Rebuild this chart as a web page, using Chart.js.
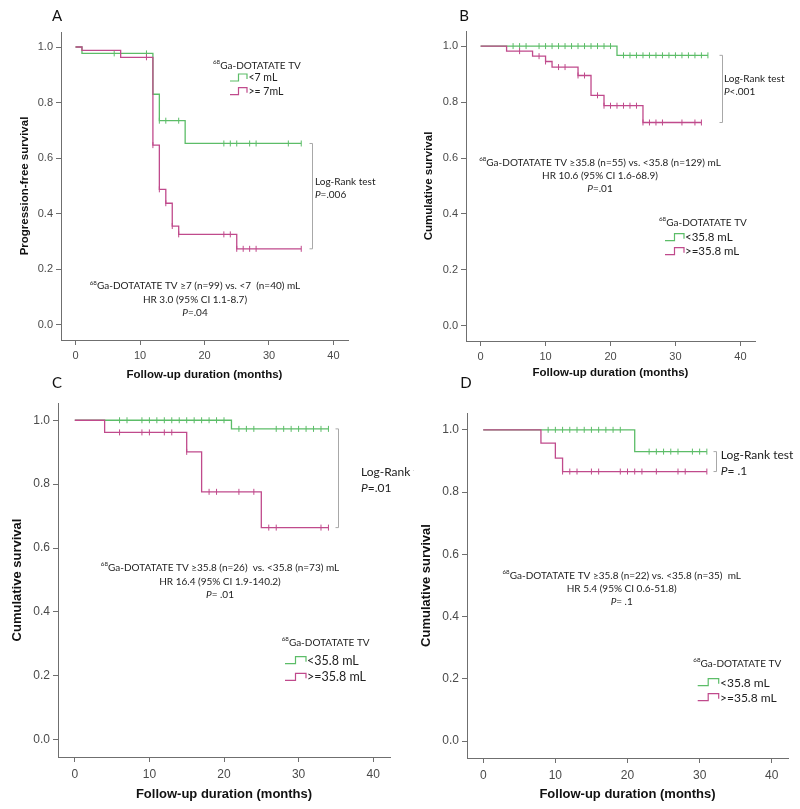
<!DOCTYPE html>
<html><head><meta charset="utf-8">
<script src="https://cdn.jsdelivr.net/npm/chart.js@4.4.1/dist/chart.umd.min.js"></script>
<style>
html,body{margin:0;padding:0;background:#fff;}
#wrap{position:relative;width:800px;height:809px;background:#fff;}
canvas{position:absolute;left:0;top:0;}
</style></head><body>
<div id="wrap">
<canvas id="cA" width="800" height="809"></canvas>
<canvas id="cB" width="800" height="809"></canvas>
<canvas id="cC" width="800" height="809"></canvas>
<canvas id="cD" width="800" height="809"></canvas>
</div>
<script>
// ---------- shared axis ticks ----------
const xTicks = [0, 10, 20, 30, 40];
const yTicks = [0.0, 0.2, 0.4, 0.6, 0.8, 1.0];

// ---------- Panel A (progression-free survival) ----------
const aLowTime    = [0, 1, 12, 13, 17, 35];
const aLowSurv    = [1.0, 0.977, 0.830, 0.735, 0.653, 0.653];
const aLowCensor  = [6, 11, 13, 14, 16, 23, 24, 25, 27, 28, 33, 35];
const aHighTime   = [0, 1, 7, 12, 13, 14, 15, 16, 25, 35];
const aHighSurv   = [1.0, 0.988, 0.963, 0.647, 0.488, 0.438, 0.356, 0.326, 0.274, 0.274];
const aHighCensor = [11, 12, 13, 14, 15, 16, 23, 24, 25, 26, 27, 28, 35];

// ---------- Panel B ----------
const bLowTime    = [0, 21, 35];
const bLowSurv    = [1.0, 0.967, 0.967];
const bLowCensor  = [5, 6, 7, 9, 10, 11, 12, 13, 14, 15, 16, 17, 18, 19, 20, 22, 23, 24, 25, 26, 27, 28, 29, 30, 31, 32, 33, 34, 35];
const bHighTime   = [0, 4, 8, 10, 11, 15, 17, 19, 25, 34];
const bHighSurv   = [1.0, 0.982, 0.964, 0.945, 0.925, 0.895, 0.824, 0.787, 0.727, 0.727];
const bHighCensor = [6, 9, 10, 12, 13, 15, 16, 18, 19, 20, 21, 22, 23, 24, 25, 26, 27, 28, 31, 33, 34];

// ---------- Panel C ----------
const cLowTime    = [0, 21, 34];
const cLowSurv    = [1.0, 0.973, 0.973];
const cLowCensor  = [6, 7, 9, 10, 11, 12, 13, 14, 15, 16, 17, 18, 19, 20, 22, 23, 24, 27, 28, 29, 30, 31, 32, 33, 34];
const cHighTime   = [0, 4, 15, 17, 25, 34];
const cHighSurv   = [1.0, 0.962, 0.901, 0.776, 0.664, 0.664];
const cHighCensor = [6, 9, 10, 12, 13, 15, 18, 19, 22, 24, 26, 27, 33, 34];

// ---------- Panel D ----------
const dLowTime    = [0, 21, 31];
const dLowSurv    = [1.0, 0.930, 0.930];
const dLowCensor  = [9, 10, 11, 12, 13, 14, 15, 16, 17, 18, 19, 23, 24, 25, 26, 27, 29, 30, 31];
const dHighTime   = [0, 8, 10, 11, 31];
const dHighSurv   = [1.0, 0.957, 0.909, 0.866, 0.866];
const dHighCensor = [11, 12, 13, 15, 16, 19, 20, 21, 22, 24, 27, 28, 31];

// ---------- styles ----------
const GREEN = '#5cbd68';
const PINK = '#c04a8c';
const AXIS = '#6f6f6f';
const TICKC = '#4a4a4a';
const ANN = 'Lato, "Open Sans", sans-serif';
Chart.defaults.font.family = '"Liberation Sans", Arial, sans-serif';

function stepAt(times, surv, t) {
  let v = surv[0];
  for (let i = 0; i < times.length; i++) if (times[i] <= t) v = surv[i];
  return v;
}
function last(a) { return a[a.length - 1]; }

function fontStr(p) {
  return (p.italic ? 'italic ' : '') + (p.bold ? 'bold ' : '') + p.size + 'px ' + ANN;
}
function drawRich(ctx, parts, x, y, align) {
  let total = 0;
  parts.forEach(p => { ctx.font = fontStr(p); p.w = ctx.measureText(p.t).width; total += p.w; });
  let cx = align === 'center' ? x - total / 2 : x;
  ctx.textAlign = 'left'; ctx.textBaseline = 'middle';
  parts.forEach(p => { ctx.font = fontStr(p); ctx.fillText(p.t, cx, y + (p.dy || 0)); cx += p.w; });
}
function supParts(rest, size) {
  return [{ t: '68', size: size * 0.62, dy: -size * 0.33 }, { t: rest, size: size }];
}
function pParts(rest, size) {
  return [{ t: 'P', size: size, italic: true }, { t: rest, size: size }];
}
function legendIcon(ctx, x0, y, w, color) {
  ctx.strokeStyle = color; ctx.lineWidth = 1.2;
  ctx.beginPath();
  ctx.moveTo(x0, y + 3);
  ctx.lineTo(x0 + w * 0.5, y + 3);
  ctx.lineTo(x0 + w * 0.5, y - 4);
  ctx.lineTo(x0 + w, y - 4);
  ctx.lineTo(x0 + w, y + 1);
  ctx.stroke();
}

function panelPlugin(P) {
  return {
    id: 'panel' + P.letter,
    afterDraw(chart) {
      const ctx = chart.ctx, xs = chart.scales.x, ys = chart.scales.y;
      ctx.save();
      ctx.fillStyle = '#111';
      // panel letter
      ctx.font = '15px ' + ANN; ctx.textAlign = 'center'; ctx.textBaseline = 'middle';
      ctx.fillText(P.letter, P.letterPos[0], P.letterPos[1]);
      // log-rank bracket
      const yTop = ys.getPixelForValue(last(P.lowSurv));
      const yBot = ys.getPixelForValue(last(P.highSurv));
      const bx = Math.round(xs.getPixelForValue(P.bracketX)) + 0.5;
      ctx.strokeStyle = '#a8a8a8'; ctx.lineWidth = 1;
      ctx.beginPath();
      ctx.moveTo(bx - 3, yTop); ctx.lineTo(bx, yTop); ctx.lineTo(bx, yBot); ctx.lineTo(bx - 3, yBot);
      ctx.stroke();
      // log-rank text
      ctx.save();
      if (P.clipRight) { ctx.beginPath(); ctx.rect(0, 0, P.clipRight, 809); ctx.clip(); }
      ctx.fillStyle = '#222';
      drawRich(ctx, [{ t: 'Log-Rank test', size: P.lrSize }], P.lrPos[0], P.lrPos[1], 'left');
      drawRich(ctx, pParts(P.lrP, P.lrSize), P.lrPos[0], P.lrPos[2], 'left');
      ctx.restore();
      // annotation
      ctx.fillStyle = '#222';
      drawRich(ctx, supParts(P.ann[0], P.annSize), P.annPos[0], P.annPos[1], 'center');
      drawRich(ctx, [{ t: P.ann[1], size: P.annSize }], P.annPos[0], P.annPos[2], 'center');
      drawRich(ctx, pParts(P.ann[2], P.annSize), P.annPos[0], P.annPos[3], 'center');
      // legend
      const L = P.legend;
      drawRich(ctx, supParts('Ga-DOTATATE TV', L.titleSize), L.title[0], L.title[1], 'left');
      legendIcon(ctx, L.icon[0], L.rows[0], L.icon[1], GREEN);
      legendIcon(ctx, L.icon[0], L.rows[1], L.icon[1], PINK);
      ctx.fillStyle = '#222';
      drawRich(ctx, [{ t: L.labels[0], size: L.size }], L.textX, L.rows[0], 'left');
      drawRich(ctx, [{ t: L.labels[1], size: L.size }], L.textX, L.rows[1], 'left');
      ctx.restore();
    }
  };
}

function makePanel(id, P) {
  const lineDs = (times, surv, color) => ({
    type: 'line',
    data: times.map((t, i) => ({ x: t, y: surv[i] })),
    borderColor: color, borderWidth: 1.3, stepped: 'before',
    pointRadius: 0, fill: false, tension: 0
  });
  const censDs = (cens, times, surv, color) => ({
    type: 'scatter',
    data: cens.map(t => ({ x: t, y: stepAt(times, surv, t) })),
    borderColor: color, backgroundColor: color, pointStyle: 'line', rotation: 90,
    pointRadius: 3, borderWidth: 1, showLine: false
  });
  new Chart(document.getElementById(id), {
    type: 'line',
    data: {
      datasets: [
        lineDs(P.highTime, P.highSurv, PINK),
        censDs(P.highCensor, P.highTime, P.highSurv, PINK),
        lineDs(P.lowTime, P.lowSurv, GREEN),
        censDs(P.lowCensor, P.lowTime, P.lowSurv, GREEN)
      ]
    },
    options: {
      responsive: false, animation: false, devicePixelRatio: 1,
      layout: { padding: { left: P.area.L - P.yW, top: P.area.T, right: 800 - P.area.R, bottom: 809 - P.area.B - P.xH } },
      plugins: { legend: { display: false }, tooltip: { enabled: false } },
      scales: {
        x: {
          type: 'linear', min: -2.25, max: 42.25,
          afterBuildTicks: s => { s.ticks = xTicks.map(v => ({ value: v })); },
          afterFit: s => { s.height = P.xH; },
          grid: { display: true, drawOnChartArea: false, drawTicks: true, tickLength: 5, color: AXIS, lineWidth: 1 },
          border: { display: true, color: AXIS, width: 1 },
          ticks: { color: TICKC, font: { size: P.tickSize }, padding: P.tickPad, maxRotation: 0, autoSkip: false, callback: v => String(v) },
          title: { display: true, text: 'Follow-up duration (months)', color: '#111', font: { size: P.titleSize, weight: 'bold' }, padding: { top: 4, bottom: 4 } }
        },
        y: {
          type: 'linear', min: -0.054, max: 1.054,
          afterBuildTicks: s => { s.ticks = yTicks.map(v => ({ value: v })); },
          afterFit: s => { s.width = P.yW; },
          grid: { display: true, drawOnChartArea: false, drawTicks: true, tickLength: 5, color: AXIS, lineWidth: 1 },
          border: { display: true, color: AXIS, width: 1 },
          ticks: { color: TICKC, font: { size: P.tickSize }, padding: 3, callback: v => Number(v).toFixed(1) },
          title: { display: true, text: P.yTitle, color: '#111', font: { size: P.titleSize, weight: 'bold' }, padding: { top: 4, bottom: 4 } }
        }
      }
    },
    plugins: [panelPlugin(P)]
  });
}

makePanel('cA', {
  letter: 'A', letterPos: [57, 16],
  area: { L: 61, T: 32, R: 348, B: 340 }, yW: 47, xH: 46, tickSize: 11, titleSize: 11.5, tickPad: 4,
  yTitle: 'Progression-free survival',
  lowTime: aLowTime, lowSurv: aLowSurv, lowCensor: aLowCensor,
  highTime: aHighTime, highSurv: aHighSurv, highCensor: aHighCensor,
  bracketX: 36.7, lrSize: 10, lrPos: [315, 181.7, 195], lrP: '=.006',
  annSize: 10, annPos: [195, 286, 299.3, 312.3],
  ann: ['Ga-DOTATATE TV \u22657 (n=99) vs. <7  (n=40) mL', 'HR 3.0 (95% CI 1.1-8.7)', '=.04'],
  legend: { title: [213, 65.7], titleSize: 10, icon: [230, 17], textX: 248.5, rows: [78, 91.7], size: 10.5, labels: ['<7 mL', '>= 7mL'] }
});

makePanel('cB', {
  letter: 'B', letterPos: [464, 16],
  area: { L: 466, T: 31, R: 755, B: 341 }, yW: 48, xH: 43, tickSize: 11, titleSize: 11.5, tickPad: 4,
  yTitle: 'Cumulative survival',
  lowTime: bLowTime, lowSurv: bLowSurv, lowCensor: bLowCensor,
  highTime: bHighTime, highSurv: bHighSurv, highCensor: bHighCensor,
  bracketX: 37.1, lrSize: 10, lrPos: [724, 79, 91.7], lrP: '<.001',
  annSize: 10, annPos: [600, 162.3, 175.7, 189],
  ann: ['Ga-DOTATATE TV \u226535.8 (n=55) vs. <35.8 (n=129) mL', 'HR 10.6 (95% CI 1.6-68.9)', '=.01'],
  legend: { title: [659, 222.7], titleSize: 10, icon: [665, 19], textX: 685, rows: [237.7, 251.7], size: 11.5, labels: ['<35.8 mL', '>=35.8 mL'] }
});

makePanel('cC', {
  letter: 'C', letterPos: [57, 383],
  area: { L: 58, T: 403, R: 390, B: 757 }, yW: 52, xH: 49, tickSize: 12, titleSize: 13, tickPad: 5,
  yTitle: 'Cumulative survival',
  lowTime: cLowTime, lowSurv: cLowSurv, lowCensor: cLowCensor,
  highTime: cHighTime, highSurv: cHighSurv, highCensor: cHighCensor,
  bracketX: 35.3, lrSize: 12, lrPos: [361, 472.3, 488.3], lrP: '=.01', clipRight: 414,
  annSize: 10, annPos: [220, 567.7, 581.7, 594.3],
  ann: ['Ga-DOTATATE TV \u226535.8 (n=26)  vs. <35.8 (n=73) mL', 'HR 16.4 (95% CI 1.9-140.2)', '= .01'],
  legend: { title: [281.7, 642.3], titleSize: 10, icon: [285, 21], textX: 307, rows: [660.7, 677.3], size: 12.5, labels: ['<35.8 mL', '>=35.8 mL'] }
});

makePanel('cD', {
  letter: 'D', letterPos: [466, 383],
  area: { L: 467, T: 413, R: 788, B: 758 }, yW: 52, xH: 48, tickSize: 12, titleSize: 13, tickPad: 5,
  yTitle: 'Cumulative survival',
  lowTime: dLowTime, lowSurv: dLowSurv, lowCensor: dLowCensor,
  highTime: dHighTime, highSurv: dHighSurv, highCensor: dHighCensor,
  bracketX: 32.2, lrSize: 12, lrPos: [720.7, 455, 470.7], lrP: '= .1',
  annSize: 10, annPos: [621.7, 575.7, 589, 601.7],
  ann: ['Ga-DOTATATE TV \u226535.8 (n=22) vs. <35.8 (n=35)  mL', 'HR 5.4 (95% CI 0.6-51.8)', '= .1'],
  legend: { title: [693.3, 663.3], titleSize: 10, icon: [697.7, 21], textX: 720, rows: [682.7, 697.7], size: 12, labels: ['<35.8 mL', '>=35.8 mL'] }
});
</script>
</body></html>
